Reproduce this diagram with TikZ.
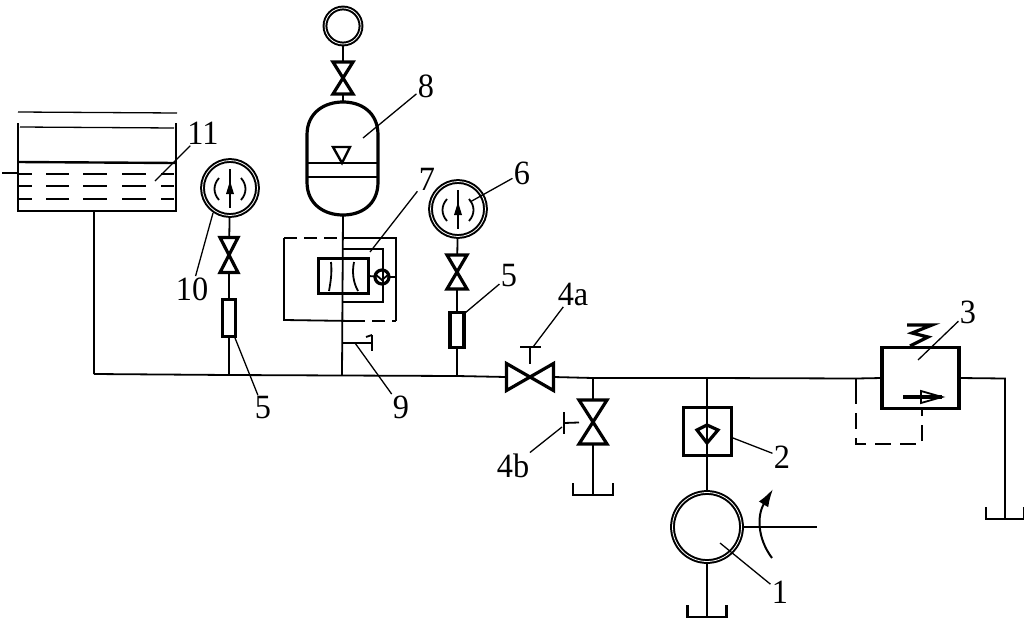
\documentclass[tikz,border=0pt]{standalone}
\usepackage{fontspec}
\setmainfont{Liberation Serif}[FakeStretch=0.95]
\usetikzlibrary{calc, arrows.meta}

\tikzset{
  pipe/.style={line width=1.8pt},
  heavy/.style={line width=3.2pt},
  medium/.style={line width=2.4pt},
  leader/.style={line width=1.3pt},
  lbl/.style={font=\fontsize{34}{34}\selectfont, inner sep=0pt, outer sep=1.5pt},
  blank/.style={rectangle, inner sep=0pt, outer sep=0pt, minimum width=#1},
  ring/.style={circle, draw, line width=2pt, double=white, double distance=0.8pt, inner sep=0pt, outer sep=1pt, minimum size=#1},
  heavybox/.style={rectangle, draw, heavy, inner sep=0pt, outer sep=0pt}
}

\begin{document}
\begin{tikzpicture}[x=1pt,y=-1pt]
        \useasboundingbox (0,0) rectangle (1024,621);

        \coordinate (m0) at (94,374);
        \coordinate (j10) at (229,375);
        \coordinate (j8) at (342,375.5);
        \coordinate (j6) at (457,376);
        \coordinate (j4) at (593,378);
        \coordinate (j2) at (707,378);
        \coordinate (j3) at (856,378.5);
        \coordinate (o1) at (1005,378.5);

        \foreach \n/\x/\y/\w/\h in {t11/97/167/158/88, t4/593/489/40/12, t2/707/611/39/12, t3/1005/513/38/12}
            \node[blank=\w pt, minimum height=\h pt] (\n) at (\x,\y) {};
        \draw[line width=2.8pt] (t11.north west) -- (t11.south west) -- (t11.south east) -- (t11.north east);
        \foreach \n in {t4,t2,t3}
            \draw[medium] (\n.north west) -- (\n.south west) -- (\n.south east) -- (\n.north east);

        \foreach \n/\x/\y/\w/\h in {v10/229/255/18/35, v8/343/78/20/32, v6/457/272/20/34, v4b/593/422/28/44}
            \node[blank=\w pt, minimum height=\h pt] (\n) at (\x,\y) {};
        \foreach \n in {v10,v8,v6,v4b}
            \draw[heavy] (\n.north west) -- (\n.south east) -- (\n.south west) -- (\n.north east) -- cycle;
        \node[blank=47pt, minimum height=27pt] (v4a) at (530,377) {};
        \draw[heavy] (v4a.north west) -- (v4a.south east) -- (v4a.north east) -- (v4a.south west) -- cycle;

        \foreach \n/\x/\y in {g10/230/188, g6/458/209}{
            \node[ring=55pt] (\n) at (\x,\y) {};
            \draw[pipe] ($(\n)+(0,-19)$) -- ($(\n)+(0,20)$);
            \fill ($(\n)+(-4,6)$) -- ($(\n)+(0,-7)$) -- ($(\n)+(4,6)$) -- cycle;
            \draw[pipe] ($(\n)+(-11,-10)$) .. controls ($(\n)+(-17,-3)$) and ($(\n)+(-17,5)$) .. ($(\n)+(-11,12)$);
            \draw[pipe] ($(\n)+(11,-10)$) .. controls ($(\n)+(17,-3)$) and ($(\n)+(17,5)$) .. ($(\n)+(11,12)$);
        }

        \node[heavybox, minimum width=13pt, minimum height=37pt] (f10) at (229,318) {};
        \node[heavybox, minimum width=14pt, minimum height=35pt] (f6) at (457,330) {};
        \node[ring=36pt] (g8) at (343,26) {};

        \draw[heavy] (307,135) .. controls (307,112) and (325,102) .. (343,102)
            .. controls (361,102) and (378,112) .. (378,135) -- (378,182)
            .. controls (378,205) and (361,215) .. (343,215)
            .. controls (325,215) and (307,205) .. (307,182) -- cycle;
        \coordinate (a8t) at (343,102);
        \coordinate (a8b) at (343,215);
        \draw[pipe] (308,163) -- (377,163);
        \draw[medium] (308,177) -- (377,177);
        \draw[medium] (333,147) -- (350,147) -- (342,163) -- cycle;

        \draw[pipe, dash pattern=on 13pt off 7pt] (284,238) -- (342,238);
        \draw[pipe] (284,238) -- (284,320) -- (352,321);
        \draw[pipe, dash pattern=on 13pt off 7pt] (352,321) -- (396,321);
        \draw[pipe] (342,238) -- (396,238) -- (396,321);
        \draw[pipe] (343,249) -- (383,249) -- (383,302) -- (343,302);
        \node[heavybox, minimum width=50pt, minimum height=35pt] (b7) at (343.5,276) {};
        \draw[pipe] (331,262) .. controls (332,272) and (331,280) .. (329,291);
        \draw[pipe] (354,262) .. controls (352,272) and (353,282) .. (358,291);
        \node[circle, draw, heavy, inner sep=0pt, outer sep=0pt, minimum size=14pt] (c7) at (382,277) {};
        \draw[pipe] (375,274) -- (382,280) -- (389,274);
        \coordinate (s9) at (343,343);
        \coordinate (s9e) at (372,343);
        \draw[medium] (s9) -- (s9e);
        \draw[pipe] (372,335) -- (372,351);
        \draw[pipe] (366,337) -- (372,335);

        \node[heavybox, minimum width=48pt, minimum height=48pt] (b2) at (707.5,431.5) {};
        \draw[heavy] (697,430) -- (707,425) -- (718,430) -- (707,443) -- cycle;
        \node[ring=69pt] (p1) at (707,527) {};
        \coordinate (sh) at (817,527);
        \draw[-{Latex[length=18pt,width=11pt]}, line width=2pt] (772,558) .. controls (757,538) and (757,515) .. (773,489);

        \node[heavybox, minimum width=77pt, minimum height=61pt] (b3) at (920.5,378) {};
        \draw[heavy] (907,325) -- (932,325) -- (912,333) -- (928,337) -- (910,346);
        \draw[heavy] (903,397) -- (942,397);
        \draw[pipe] (921,391) -- (942,397) -- (921,403) -- cycle;
        \draw[pipe] (j3) -- (856,404);
        \draw[pipe, dash pattern=on 16pt off 9pt] (856,413) -- (856,444) -- (922,444) -- (922,408);

        \node[blank=1pt] (s4a) at (530,347) {};
        \draw[medium] (520,347) -- (541,347);
        \draw[medium] (564,412) -- (564,434);
        \coordinate (s4b) at (564,423);

        \draw[pipe] (m0) -- (j10) -- (j8) -- (j6) -- (v4a.west)
            (v4a.east) -- (j4) -- (j2) -- (j3) -- (b3.west)
            (b3.east) -- (o1) -- (t3.south);
        \draw[pipe] (m0) -- (t11.south -| m0);
        \draw[pipe] (j10) -- (f10) (f10) -- (v10) (v10) -- (g10);
        \draw[pipe] (j6) -- (f6) (f6) -- (v6) (v6) -- (g6);
        \draw[pipe] (j8) -- (a8b);
        \draw[pipe] (a8t) -- (v8) (v8) -- (g8);
        \draw[pipe] (j4) -- (v4b) (v4b) -- (t4.south);
        \draw[pipe] (j2) -- (p1);
        \draw[pipe] (p1) -- (t2.south);
        \draw[pipe] (p1) -- (sh);
        \draw[pipe] (b7.east) -- (c7) (c7) -- (396,277);
        \draw[pipe] (v4a) -- (s4a);
        \draw[pipe] (v4b) -- (s4b);

        \draw[leader] (18,112) -- (177,113);
        \draw[leader] (20,127) -- (174,128);
        \draw[medium] (18,162) -- (176,163);
        \draw[leader] (2,173) -- (18,173);
        \foreach \y in {174,186,199}{
            \draw[pipe] (18,\y) -- (32,\y);
            \draw[pipe] (46,\y) -- (69,\y);
            \draw[pipe] (83,\y) -- (107,\y);
            \draw[pipe] (122,\y) -- (146,\y);
            \draw[pipe] (161,\y) -- (174,\y);
        }

        \foreach \n/\t/\x/\y/\ex/\ey in {n1/1/780/592/720/543, n2/2/782/457/733/438, n3/3/968/312/918/360,
            n4a/4a/573/294/533/347, n4b/4b/513/466/562/427, n5r/5/509/276/465/313, n5l/5/263/408/235/338,
            n6/6/522/173/470/202, n7/7/427/179/370/252, n8/8/426/86/363/138, n9/9/401/407/355/343,
            n10/10/192/289/213/213, n11/11/203/133/155/181}{
            \node[lbl] (\n) at (\x,\y) {\t};
            \coordinate (e\n) at (\ex,\ey);
            \draw[leader] (e\n) -- (\n);
        }
\end{tikzpicture}
\end{document}
